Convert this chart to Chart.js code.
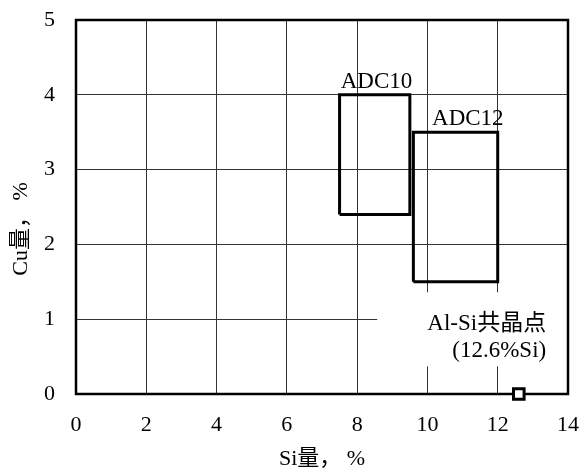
<!DOCTYPE html>
<html>
<head>
<meta charset="utf-8">
<script src="https://cdn.jsdelivr.net/npm/chart.js@4"></script>
<style>
  html, body { margin: 0; padding: 0; background: #fff; }
  #wrap { width: 581px; height: 468px; }
</style>
</head>
<body>
<div id="wrap"><canvas id="chart" width="581" height="468"></canvas></div>
<script>
// ---- data ----
var siRange = [0, 14];
var siStep = 2;
var cuRange = [0, 5];
var cuStep = 1;

var adc10Si = [7.5, 9.5];
var adc10Cu = [2.4, 4.0];
var adc12Si = [9.6, 12.0];
var adc12Cu = [1.5, 3.5];

var eutecticSi = [12.6];
var eutecticCu = [0];

var FONT = '"Liberation Serif", "Times New Roman", "Noto Sans CJK JP", serif';

// text placed in data units
var notes = [
  { text: 'ADC10', x: 8.55, y: 4.0, dy: -7, align: 'center' },
  { text: 'ADC12', x: 11.15, y: 3.5, dy: -7, align: 'center' },
  { text: 'Al-Si共晶点', x: 13.38, y: 0.86, dy: 0, align: 'right' },
  { text: '(12.6%Si)', x: 13.38, y: 0.5, dy: 0, align: 'right' }
];
// white patch behind the eutectic note (hides grid)
var noteBox = { x: [8.57, 14], y: [0.37, 1.36] };

function box(si, cu) {
  return [
    { x: si[0], y: cu[0] }, { x: si[1], y: cu[0] },
    { x: si[1], y: cu[1] }, { x: si[0], y: cu[1] },
    { x: si[0], y: cu[0] }
  ];
}

var frameAndNotes = {
  id: 'frameAndNotes',
  beforeDatasetsDraw: function (chart) {
    var ctx = chart.ctx, a = chart.chartArea;
    var xs = chart.scales.x, ys = chart.scales.y;
    ctx.save();
    ctx.fillStyle = '#fff';
    var x0 = xs.getPixelForValue(noteBox.x[0]), x1 = xs.getPixelForValue(noteBox.x[1]);
    var y0 = ys.getPixelForValue(noteBox.y[1]), y1 = ys.getPixelForValue(noteBox.y[0]);
    ctx.fillRect(x0, y0, x1 - x0, y1 - y0);
    ctx.strokeStyle = '#000';
    ctx.lineWidth = 2.5;
    ctx.strokeRect(a.left, a.top, a.right - a.left, a.bottom - a.top);
    ctx.restore();
  },
  afterDatasetsDraw: function (chart) {
    var ctx = chart.ctx;
    var xs = chart.scales.x, ys = chart.scales.y;
    ctx.save();
    ctx.fillStyle = '#000';
    ctx.font = '23px ' + FONT;
    ctx.textBaseline = 'alphabetic';
    notes.forEach(function (n) {
      ctx.textAlign = n.align;
      ctx.fillText(n.text, xs.getPixelForValue(n.x), ys.getPixelForValue(n.y) + n.dy);
    });
    ctx.restore();
  }
};

var rectStyle = {
  showLine: true,
  borderColor: '#000',
  borderWidth: 3,
  borderJoinStyle: 'miter',
  pointRadius: 0,
  fill: false
};

new Chart(document.getElementById('chart'), {
  type: 'scatter',
  data: {
    datasets: [
      Object.assign({ label: 'ADC10', data: box(adc10Si, adc10Cu) }, rectStyle),
      Object.assign({ label: 'ADC12', data: box(adc12Si, adc12Cu) }, rectStyle),
      {
        label: 'Al-Si共晶点',
        data: eutecticSi.map(function (s, i) { return { x: s, y: eutecticCu[i] }; }),
        pointStyle: 'rect',
        pointRadius: 7.5,
        pointBorderWidth: 3,
        pointBackgroundColor: '#fff',
        pointBorderColor: '#000',
        clip: false
      }
    ]
  },
  options: {
    responsive: false,
    animation: false,
    layout: { padding: { top: 20, right: 13, left: 0, bottom: 0 } },
    plugins: { legend: { display: false }, tooltip: { enabled: false } },
    scales: {
      x: {
        type: 'linear',
        min: siRange[0], max: siRange[1],
        afterFit: function (s) { s.height = 74; s.paddingLeft = 0; s.paddingRight = 0; },
        ticks: { stepSize: siStep, color: '#000', padding: 18, font: { family: FONT, size: 22 } },
        grid: { color: '#333', lineWidth: 1, drawTicks: false },
        border: { display: false },
        title: { display: true, text: 'Si量， %', color: '#000', padding: -4, font: { family: FONT, size: 22 } }
      },
      y: {
        type: 'linear',
        min: cuRange[0], max: cuRange[1],
        afterFit: function (s) { s.width = 76; s.paddingTop = 0; s.paddingBottom = 0; },
        ticks: { stepSize: cuStep, color: '#000', padding: 21, font: { family: FONT, size: 22 } },
        grid: { color: '#333', lineWidth: 1, drawTicks: false },
        border: { display: false },
        title: { display: true, text: 'Cu量， %\u3000\u3000', color: '#000', padding: { top: 8, bottom: 0 }, font: { family: FONT, size: 22 } }
      }
    }
  },
  plugins: [frameAndNotes]
});
</script>
</body>
</html>
